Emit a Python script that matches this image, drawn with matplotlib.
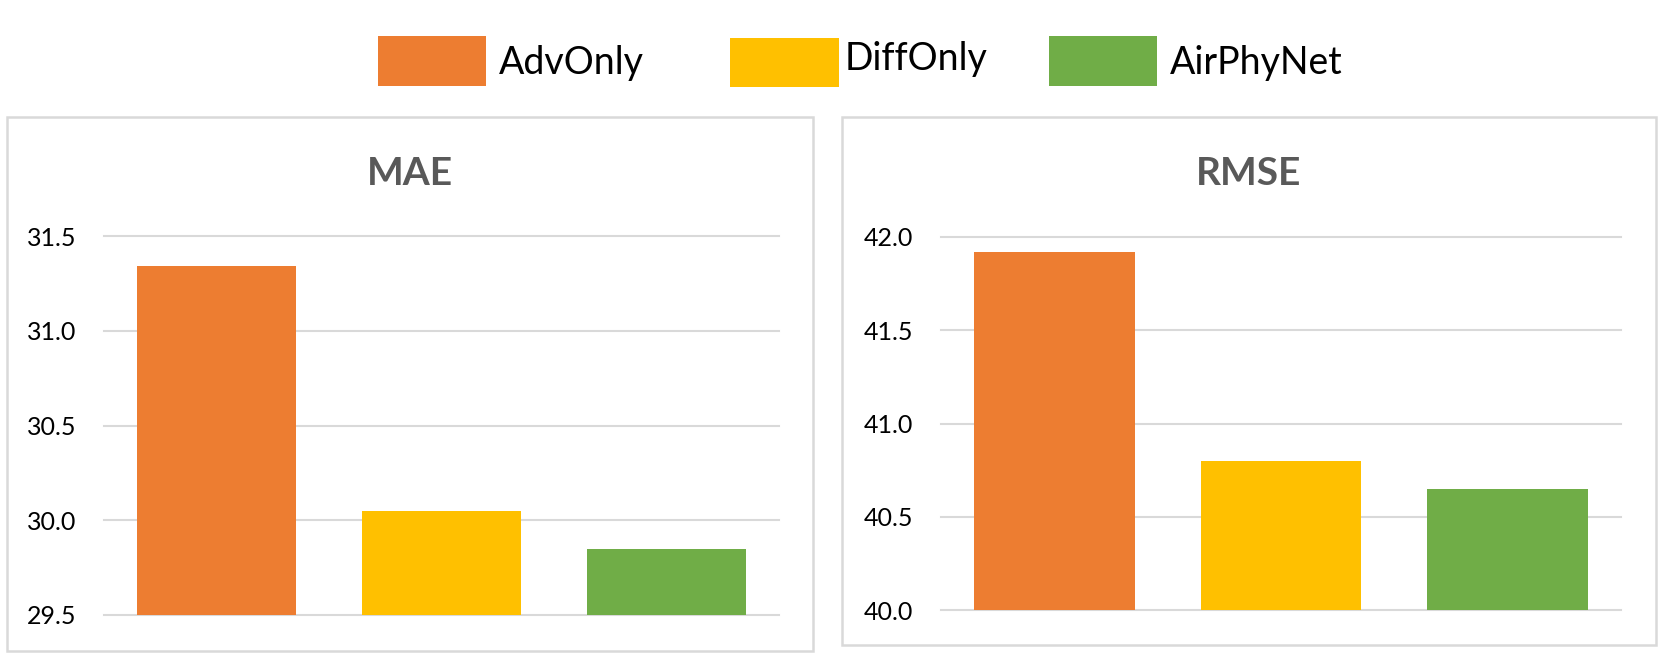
import matplotlib
matplotlib.use('Agg')
import matplotlib.pyplot as plt
from matplotlib.patches import Rectangle

models = ['AdvOnly', 'DiffOnly', 'AirPhyNet']
colors = ['#ED7D31', '#FFC000', '#70AD47']
mae = [31.34, 30.05, 29.85]
rmse = [41.92, 40.80, 40.65]
mae_ticks = [29.5, 30.0, 30.5, 31.0, 31.5]
rmse_ticks = [40.0, 40.5, 41.0, 41.5, 42.0]

plt.rcParams['font.family'] = ['Lato', 'DejaVu Sans']

W, H = 1662, 661
fig = plt.figure(figsize=(W / 100, H / 100), dpi=100)


def fx(x):
    return x / W


def fy(y):
    return 1 - y / H


def px(x0, y0, x1, y1):
    # pixel box (top-left origin) -> figure fraction rect
    return [fx(x0), fy(y1), (x1 - x0) / W, (y1 - y0) / H]


def box(x0, y0, x1, y1, **kw):
    l, b, w, h = px(x0, y0, x1, y1)
    fig.add_artist(Rectangle((l, b), w, h, transform=fig.transFigure, **kw))


# panel frames (drawn in the same pixel layout as the original)
frames = [(7, 117, 813, 651), (842, 117, 1656, 645)]
axboxes = [(104, 236, 779, 615), (941, 237, 1621, 610)]
for fr in frames:
    box(*fr, fill=False, edgecolor='#d9d9d9', lw=1.8)

for fr, ab, vals, ticks, title in zip(frames, axboxes, [mae, rmse],
                                      [mae_ticks, rmse_ticks], ['MAE', 'RMSE']):
    ax = fig.add_axes(px(*ab))
    ax.bar(range(3), vals, width=0.71, color=colors, zorder=3)
    ax.set_xlim(-0.5, 2.5)
    ax.set_ylim(ticks[0], ticks[-1])
    ax.set_yticks(ticks)
    ax.set_yticklabels([f'{t:.1f}' for t in ticks])
    ax.set_xticks([])
    ax.grid(axis='y', color='#d9d9d9', lw=1.5, zorder=0)
    for gl in ax.get_ygridlines():
        gl.set_clip_on(False)
    ax.tick_params(axis='y', length=0, pad=20, labelsize=18, colors='#000000')
    for s in ax.spines.values():
        s.set_visible(False)
    fig.text(fx((fr[0] + fr[2]) / 2), fy(185), title, fontsize=28,
             fontweight='bold', color='#595959', ha='center', va='baseline')

# legend, laid out like the source
leg_patch = [(378, 36, 486, 86), (730, 38, 839, 87), (1049, 36, 1157, 86)]
leg_text = [(499, 74), (845, 70), (1170, 74)]
for m, c, pb, (tx, ty) in zip(models, colors, leg_patch, leg_text):
    box(*pb, facecolor=c, edgecolor='none')
    fig.text(fx(tx), fy(ty), m, fontsize=27, color='#000000', va='baseline')

fig.savefig('out.png', dpi=100)
